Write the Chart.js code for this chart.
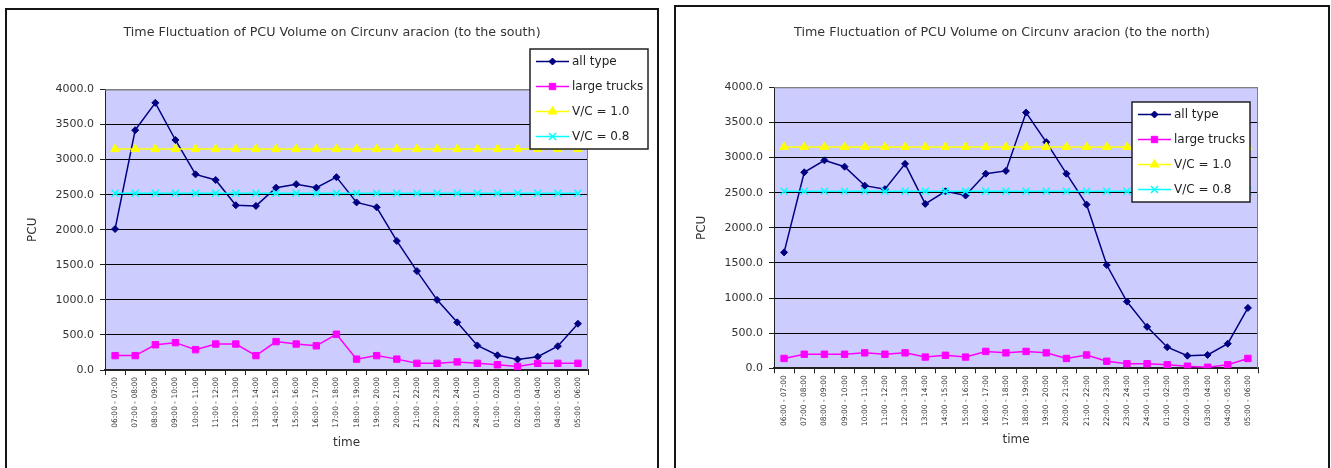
<!DOCTYPE html>
<html>
<head>
<meta charset="utf-8">
<title>Time Fluctuation of PCU Volume on Circunvaracion</title>
<script src="https://cdn.jsdelivr.net/npm/chart.js@4.4.1/dist/chart.umd.min.js"></script>
<style>
  html, body { margin: 0; padding: 0; background: #fff; overflow: hidden; }
  .panel { position: absolute; border: 2px solid #151515; background: #fff; }
  .panel canvas { display: block; }
  #southPanel { left: 5px; top: 8px; width: 650px; height: 470px; }
  #northPanel { left: 674px; top: 5px; width: 652px; height: 470px; }
</style>
</head>
<body>
<div class="panel" id="southPanel"><canvas id="southChart" width="650" height="470"></canvas></div>
<div class="panel" id="northPanel"><canvas id="northChart" width="652" height="470"></canvas></div>
<script>
// Hourly time slots (06:00 to 06:00 next day)
const timeSlots = [
  "06:00 - 07:00", "07:00 - 08:00", "08:00 - 09:00", "09:00 - 10:00",
  "10:00 - 11:00", "11:00 - 12:00", "12:00 - 13:00", "13:00 - 14:00",
  "14:00 - 15:00", "15:00 - 16:00", "16:00 - 17:00", "17:00 - 18:00",
  "18:00 - 19:00", "19:00 - 20:00", "20:00 - 21:00", "21:00 - 22:00",
  "22:00 - 23:00", "23:00 - 24:00", "24:00 - 01:00", "01:00 - 02:00",
  "02:00 - 03:00", "03:00 - 04:00", "04:00 - 05:00", "05:00 - 06:00"
];

// Southbound PCU volumes
const southAllType = [2010, 3420, 3810, 3280, 2790, 2710, 2350, 2340, 2600, 2650, 2600, 2750,
                      2390, 2320, 1840, 1410, 1000, 680, 350, 210, 150, 190, 340, 660];
const southTrucks  = [205, 205, 360, 390, 290, 370, 370, 205, 405, 370, 345, 510,
                      155, 205, 155, 95, 95, 115, 95, 75, 50, 95, 95, 95];
const southVC10    = [3150, 3150, 3150, 3150, 3150, 3150, 3150, 3150, 3150, 3150, 3150, 3150,
                      3150, 3150, 3150, 3150, 3150, 3150, 3150, 3150, 3150, 3150, 3150, 3150];
const southVC08    = [2520, 2520, 2520, 2520, 2520, 2520, 2520, 2520, 2520, 2520, 2520, 2520,
                      2520, 2520, 2520, 2520, 2520, 2520, 2520, 2520, 2520, 2520, 2520, 2520];

// Northbound PCU volumes
const northAllType = [1650, 2790, 2960, 2870, 2600, 2550, 2910, 2340, 2520, 2460, 2770, 2810,
                      3640, 3220, 2770, 2330, 1470, 950, 590, 300, 180, 190, 350, 860];
const northTrucks  = [140, 200, 200, 200, 220, 200, 220, 160, 185, 160, 240, 220,
                      240, 220, 140, 190, 100, 65, 65, 50, 30, 15, 50, 140];
const northVC10    = [3150, 3150, 3150, 3150, 3150, 3150, 3150, 3150, 3150, 3150, 3150, 3150,
                      3150, 3150, 3150, 3150, 3150, 3150, 3150, 3150, 3150, 3150, 3150, 3150];
const northVC08    = [2520, 2520, 2520, 2520, 2520, 2520, 2520, 2520, 2520, 2520, 2520, 2520,
                      2520, 2520, 2520, 2520, 2520, 2520, 2520, 2520, 2520, 2520, 2520, 2520];

const seriesNames = ["all type", "large trucks", "V/C = 1.0", "V/C = 0.8"];

Chart.defaults.font.family = '"DejaVu Sans", "Liberation Sans", sans-serif';
Chart.defaults.color = '#333';

// Lavender plot background with a grey frame on top and right
const plotFrame = {
  id: 'plotFrame',
  beforeDraw(chart) {
    const { ctx, chartArea: a } = chart;
    ctx.save();
    ctx.fillStyle = '#CCCCFF';
    ctx.fillRect(a.left, a.top, a.right - a.left, a.bottom - a.top);
    ctx.restore();
  },
  beforeDatasetsDraw(chart) {
    const { ctx, chartArea: a } = chart;
    ctx.save();
    ctx.strokeStyle = '#808080';
    ctx.lineWidth = 1;
    ctx.beginPath();
    ctx.moveTo(a.left, a.top + 0.5);
    ctx.lineTo(a.right - 0.5, a.top + 0.5);
    ctx.lineTo(a.right - 0.5, a.bottom);
    ctx.stroke();
    ctx.restore();
  }
};

// Chart heading centred across the whole panel
const panelTitle = {
  id: 'panelTitle',
  afterDraw(chart, args, opts) {
    const ctx = chart.ctx;
    ctx.save();
    ctx.fillStyle = '#333';
    ctx.font = '12.7px "DejaVu Sans", sans-serif';
    ctx.textAlign = 'center';
    ctx.textBaseline = 'middle';
    ctx.fillText(opts.text, chart.width / 2, opts.y);
    ctx.restore();
  }
};

// Boxed legend placed at a fixed spot over the plot
const boxLegend = {
  id: 'boxLegend',
  afterDraw(chart, args, opts) {
    const ctx = chart.ctx;
    const { x, y, w, h } = opts;
    ctx.save();
    ctx.fillStyle = '#fff';
    ctx.fillRect(x, y, w, h);
    ctx.strokeStyle = '#222';
    ctx.lineWidth = 1.5;
    ctx.strokeRect(x, y, w, h);
    chart.data.datasets.forEach((ds, i) => {
      const cy = y + 12.5 + i * 25;
      ctx.strokeStyle = ds.borderColor;
      ctx.lineWidth = ds.borderWidth;
      ctx.beginPath();
      ctx.moveTo(x + 6, cy);
      ctx.lineTo(x + 39, cy);
      ctx.stroke();
      ctx.fillStyle = ds.pointBackgroundColor;
      ctx.strokeStyle = ds.pointBorderColor;
      ctx.lineWidth = ds.pointBorderWidth;
      Chart.helpers.drawPoint(ctx, {
        pointStyle: ds.pointStyle, radius: ds.pointRadius, rotation: 0,
        borderWidth: ds.pointBorderWidth
      }, x + 22.5, cy);
      ctx.fillStyle = '#222';
      ctx.font = '12px "DejaVu Sans", sans-serif';
      ctx.textBaseline = 'middle';
      ctx.textAlign = 'left';
      ctx.fillText(ds.label, x + 42, cy);
    });
    ctx.restore();
  }
};

function makeDatasets(allType, trucks, vc10, vc08) {
  return [
    { label: seriesNames[0], data: allType, order: 4,
      borderColor: '#000080', borderWidth: 1.5,
      pointStyle: 'rectRot', pointRadius: 3.5, pointBorderWidth: 1,
      pointBackgroundColor: '#000080', pointBorderColor: '#000080' },
    { label: seriesNames[1], data: trucks, order: 3,
      borderColor: '#FF00FF', borderWidth: 1.5,
      pointStyle: 'rect', pointRadius: 4.5, pointBorderWidth: 1,
      pointBackgroundColor: '#FF00FF', pointBorderColor: '#FF00FF' },
    { label: seriesNames[2], data: vc10, order: 2,
      borderColor: '#FFFF00', borderWidth: 1.5,
      pointStyle: 'triangle', pointRadius: 5, pointBorderWidth: 1,
      pointBackgroundColor: '#FFFF00', pointBorderColor: '#FFFF00' },
    { label: seriesNames[3], data: vc08, order: 1,
      borderColor: '#00FFFF', borderWidth: 1.5,
      pointStyle: 'crossRot', pointRadius: 5, pointBorderWidth: 1.5,
      pointBackgroundColor: '#00FFFF', pointBorderColor: '#00FFFF' }
  ];
}

function buildChart(canvasId, titleText, datasets, lay) {
  return new Chart(document.getElementById(canvasId), {
    type: 'line',
    data: { labels: timeSlots, datasets: datasets },
    options: {
      responsive: false,
      animation: false,
      devicePixelRatio: 1,
      elements: { line: { tension: 0 } },
      layout: { padding: { left: 0, right: lay.padRight, top: lay.padTop, bottom: 0 } },
      plugins: {
        legend: { display: false },
        tooltip: { enabled: false },
        title: { display: false },
        panelTitle: { text: titleText, y: lay.titleY },
        boxLegend: lay.legend
      },
      scales: {
        x: {
          offset: true,
          grid: { offset: true, drawOnChartArea: false, drawTicks: true, tickLength: 5, color: '#222' },
          border: { color: '#222', width: 2 },
          ticks: { autoSkip: false, maxRotation: 90, minRotation: 90, padding: 2,
                   color: '#333', font: { size: 7.5 } },
          title: { display: true, text: 'time', color: '#333', font: { size: 12 },
                   padding: { top: 0, bottom: 29.8 } },
          afterFit(s) { s.height = lay.xHeight; }
        },
        y: {
          min: 0, max: 4000,
          ticks: { stepSize: 500, padding: 6, color: '#333', font: { size: 11 },
                   callback: v => Number(v).toFixed(1) },
          grid: { color: c => (c.tick && c.tick.value === 4000 ? '#808080' : '#000'),
                  tickLength: 5, tickColor: '#222', lineWidth: 1 },
          border: { color: '#222', width: 1 },
          title: { display: true, text: 'PCU', color: '#333', font: { size: 12 },
                   padding: { top: 18.3, bottom: 0 } },
          afterFit(s) { s.width = 98; }
        }
      }
    },
    plugins: [plotFrame, panelTitle, boxLegend]
  });
}

buildChart('southChart',
  'Time Fluctuation of PCU Volume on Circunv aracion (to the south)',
  makeDatasets(southAllType, southTrucks, southVC10, southVC08),
  { padRight: 69, padTop: 79.5, titleY: 23, xHeight: 110,
    legend: { x: 523, y: 39, w: 118, h: 100 } });

buildChart('northChart',
  'Time Fluctuation of PCU Volume on Circunv aracion (to the north)',
  makeDatasets(northAllType, northTrucks, northVC10, northVC08),
  { padRight: 70, padTop: 80.3, titleY: 26, xHeight: 108.7,
    legend: { x: 456, y: 95, w: 118, h: 100 } });
</script>
</body>
</html>
